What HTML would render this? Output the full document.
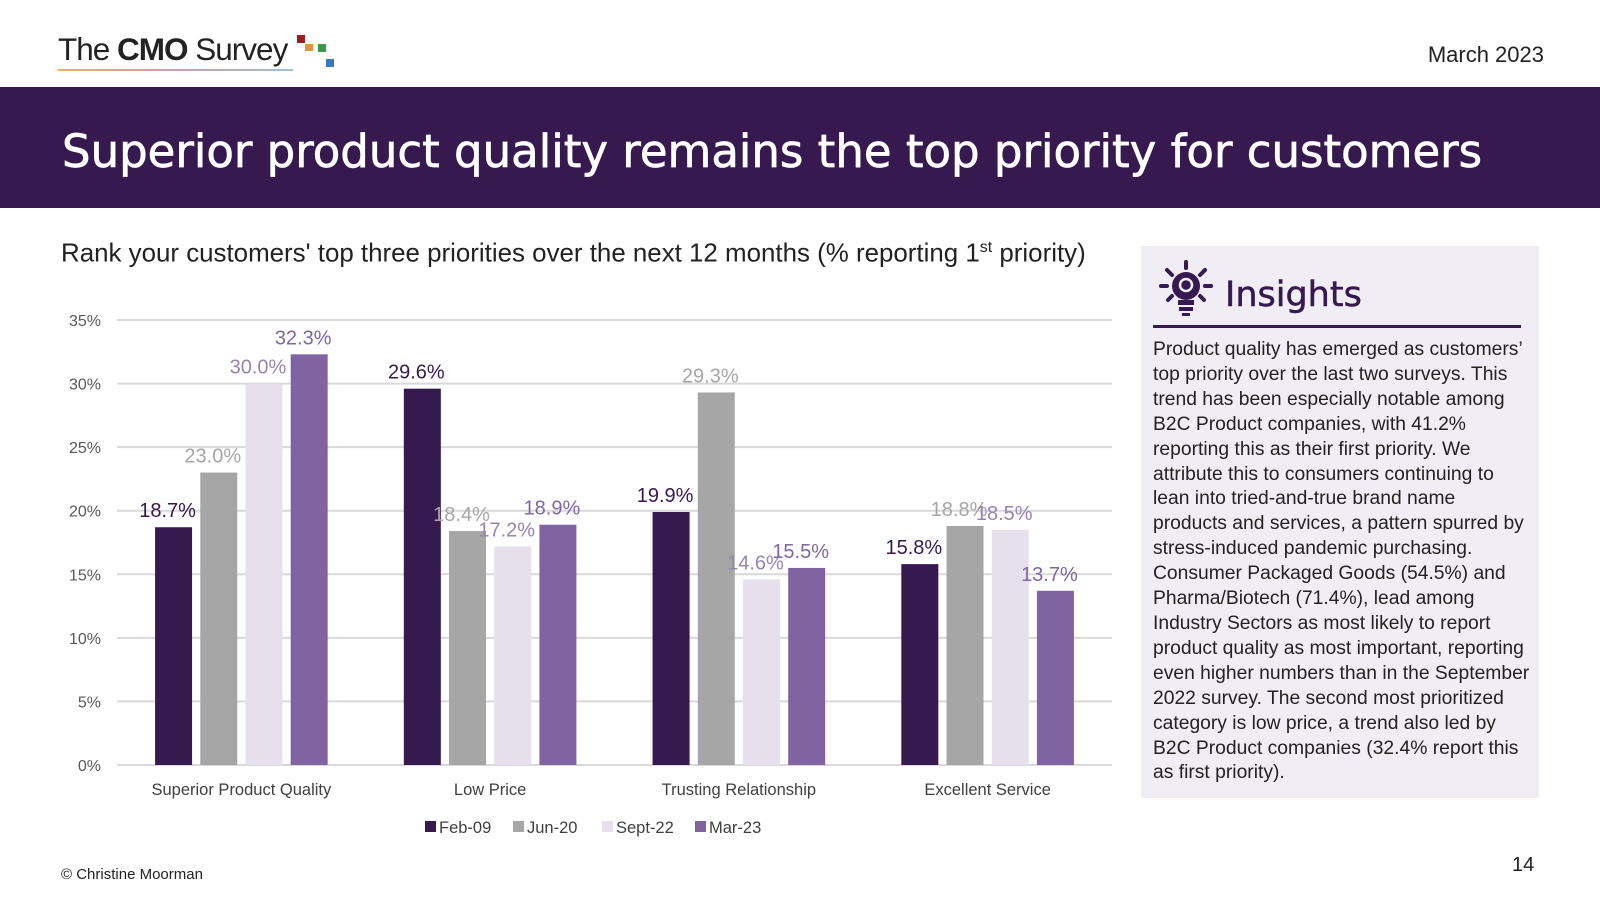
<!DOCTYPE html>
<html><head><meta charset="utf-8"><style>
body{margin:0;width:1600px;height:900px;background:#fff;font-family:"Liberation Sans",sans-serif;position:relative;overflow:hidden}
.abs{position:absolute}
</style></head><body>
<div class="abs" style="left:58px;top:30px;width:290px;height:45px">
 <span style="position:absolute;left:0;top:1px;font-size:31.5px;color:#222;letter-spacing:-1px;white-space:nowrap">The <b>CMO</b> Survey</span>
 <div style="position:absolute;left:0;top:39px;width:235px;height:2px;background:linear-gradient(90deg,#e8b070,#c9a0b0,#a0c0d0)"></div>
 <div style="position:absolute;left:239px;top:5px;width:8px;height:8px;background:#a01e22"></div>
 <div style="position:absolute;left:247px;top:14px;width:8px;height:7px;background:#e8913a"></div>
 <div style="position:absolute;left:260px;top:14px;width:8px;height:8px;background:#3a9a48"></div>
 <div style="position:absolute;left:268px;top:29px;width:8px;height:8px;background:#3a78c4"></div>
</div>
<div class="abs" style="right:56px;top:42px;font-size:22px;color:#222">March 2023</div>
<div class="abs" style="left:0;top:87px;width:1600px;height:121px;background:#35194f">
 <div style="position:absolute;left:62px;top:38px;font-size:45px;color:#fff;font-family:'DejaVu Sans','Liberation Sans',sans-serif;-webkit-text-stroke:0.7px #fff;white-space:nowrap">Superior product quality remains the top priority for customers</div>
</div>
<div class="abs" style="left:61px;top:239px;font-size:25.9px;color:#222;white-space:nowrap">Rank your customers' top three priorities over the next 12 months (% reporting 1<sup style="font-size:16px">st</sup> priority)</div>
<svg class="abs" style="left:0;top:0" width="1600" height="900" id="chart"></svg>
<div class="abs" style="left:1141px;top:246px;width:398px;height:552px;background:#f0edf4">
 <svg style="position:absolute;left:18px;top:14px" width="54" height="58" viewBox="0 0 54 58">
  <g stroke="#35194f" stroke-width="4" stroke-linecap="round"><line x1="27" y1="2" x2="27" y2="8"/><line x1="8" y1="10" x2="13" y2="15"/><line x1="46" y1="10" x2="41" y2="15"/><line x1="2" y1="26" x2="8" y2="26"/><line x1="46" y1="26" x2="52" y2="26"/><line x1="9" y1="40" x2="13" y2="36"/><line x1="45" y1="40" x2="41" y2="36"/></g>
  <circle cx="27" cy="26" r="14" fill="#35194f"/><circle cx="27" cy="25" r="6" fill="none" stroke="#f0edf4" stroke-width="2.5"/>
  <rect x="19" y="40" width="16" height="5" fill="#35194f"/><rect x="20" y="47" width="14" height="4" fill="#35194f"/><rect x="23" y="53" width="8" height="3" fill="#35194f"/>
 </svg>
 <div style="position:absolute;left:84px;top:29px;font-size:35px;color:#35194f;font-family:'DejaVu Sans','Liberation Sans',sans-serif;-webkit-text-stroke:0.5px #35194f">Insights</div>
 <div style="position:absolute;left:12px;top:79px;width:368px;height:3px;background:#35194f"></div>
 <div style="position:absolute;left:12px;top:92px;width:378px;font-size:19.3px;line-height:24.9px;color:#222">Product quality has emerged as customers’ top priority over the last two surveys. This trend has been especially notable among B2C Product companies, with 41.2% reporting this as their first priority. We attribute this to consumers continuing to lean into tried-and-true brand name products and services, a pattern spurred by stress-induced pandemic purchasing. Consumer Packaged Goods (54.5%) and Pharma/Biotech (71.4%), lead among Industry Sectors as most likely to report product quality as most important, reporting even higher numbers than in the September 2022 survey. The second most prioritized category is low price, a trend also led by B2C Product companies (32.4% report this as first priority).</div>
</div>
<div class="abs" style="left:61px;top:866px;font-size:15px;color:#222">© Christine Moorman</div>
<div class="abs" style="left:1512px;top:854px;font-size:20px;color:#222">14</div>
<script>
const categories=["Superior Product Quality","Low Price","Trusting Relationship","Excellent Service"];
const seriesNames=["Feb-09","Jun-20","Sept-22","Mar-23"];
const feb09=[18.7,29.6,19.9,15.8];
const jun20=[23.0,18.4,29.3,18.8];
const sept22=[30.0,17.2,14.6,18.5];
const mar23=[32.3,18.9,15.5,13.7];
const yTicks=[0,5,10,15,20,25,30,35];
const series=[feb09,jun20,sept22,mar23];
const barColors=["#35194f","#a6a6a6","#e6e0ec","#8064a2"];
const labelColors=["#35194f","#a6a6a6","#9585b3","#7f67a0"];
const svg=document.getElementById('chart');
const NS='http://www.w3.org/2000/svg';
const X0=117,X1=1112,Y0=765,Y1=320,YMAX=35;
const y=v=>Y0-(v/YMAX)*(Y0-Y1);
const catW=(X1-X0)/categories.length,bw=37,gap=8.2;
const bx=(c,s)=>X0+c*catW+(catW-(4*bw+3*gap))/2+s*(bw+gap);
function mk(t,a){const e=document.createElementNS(NS,t);for(const k in a)e.setAttribute(k,a[k]);svg.appendChild(e);return e;}
yTicks.forEach(t=>{
 const l=mk('line',{x1:X0,x2:X1,y1:y(t),y2:y(t),stroke:'#d9d9d9','stroke-width':2});
 
 
 const tx=mk('text',{x:101,y:y(t)+6,'text-anchor':'end','font-size':16,fill:'#595959'});
 tx.textContent=t+'%';
 
 
});
categories.forEach((c,ci)=>{
 series.forEach((arr,si)=>{
  const v=arr[ci];
  const r=mk('rect',{x:bx(ci,si),y:y(v),width:bw,height:Y0-y(v),fill:barColors[si]});
  
  
  const t=mk('text',{x:bx(ci,si)+bw/2-6,y:y(v)-10,'text-anchor':'middle','font-size':20,fill:labelColors[si]});
  t.textContent=v.toFixed(1)+'%';
  
  
 });
 const t=mk('text',{x:X0+ci*catW+catW/2,y:795,'text-anchor':'middle','font-size':16.5,fill:'#404040'});
 t.textContent=c;
 
 
});
const lx=[425,513,602,695];
seriesNames.forEach((n,i)=>{
 const r=mk('rect',{x:lx[i],y:821,width:11,height:11,fill:barColors[i]});
 
 
 const t=mk('text',{x:lx[i]+14,y:833,'font-size':16.5,fill:'#404040'});
 t.textContent=n;
 
 
});
</script>
</body></html>
